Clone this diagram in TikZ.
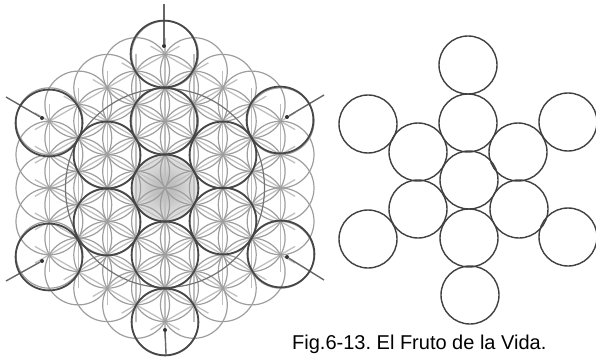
\documentclass[tikz,border=0pt]{standalone}
\usepackage{fontspec}
\setmainfont{Liberation Sans}
\usepackage{tikz}
\usetikzlibrary{calc}
\tikzset{
    grid circle/.style={circle, draw=black!38, line width=1.2pt, minimum size=66.8pt, inner sep=0pt},
    grid line/.style={draw=black!25, line width=1.3pt},
    big circle/.style={circle, draw=black!72, line width=1.8pt, minimum size=66.8pt, inner sep=0pt},
    ring circle/.style={circle, draw=black!55, line width=1.2pt, minimum size=199pt, inner sep=0pt},
    fruit circle/.style={circle, draw=black!75, line width=1.4pt, minimum size=58pt, inner sep=0pt},
    spoke/.style={draw=black!60, line width=1.4pt},
    center dot/.style={circle, fill=black!80, minimum size=4pt, inner sep=0pt},
}
\begin{document}
\begin{tikzpicture}[x=1pt, y=-1pt]
    \useasboundingbox (0,0) rectangle (596,358);

    % Shaded centre
    \node[circle, minimum size=66.8pt, inner sep=0pt, inner color=black!30, outer color=black!10] (shade) at (165,188) {};

    % Straight lines of the grid
    \foreach \r in {0,60,120} {
        \foreach \k in {-4,...,4} {
            \pgfmathsetmacro{\halflen}{33.4*(4.5-abs(\k)/2)}
            \pgfmathsetmacro{\offs}{28.9*\k}
            \coordinate (a) at ($(165,188)+(\r:\offs)+({\r+90}:\halflen)$);
            \coordinate (b) at ($(165,188)+(\r:\offs)+({\r-90}:\halflen)$);
            \draw[grid line] (a) -- (b);
        }
    }

    % Flower grid
    \foreach \i in {-4,...,4} {
        \foreach \j in {-4,...,4} {
            \pgfmathtruncatemacro{\k}{abs(\i+\j)}
            \ifnum\k<5
                \node[grid circle] (g\i\j) at ({165+28.9*\i}, {188+16.7*\i+33.4*\j}) {};
            \fi
        }
    }
    \node[ring circle] (ring) at (165,188) {};

    % Spokes
    \coordinate (s1) at (164,4);
    \coordinate (s2) at (324,95);
    \coordinate (s3) at (324,280);
    \coordinate (s4) at (166,354);
    \coordinate (s5) at (6,281);
    \coordinate (s6) at (6,97);
    \node[center dot] (d1) at (164,46) {};
    \node[center dot] (d2) at (287,117) {};
    \node[center dot] (d3) at (287,257) {};
    \node[center dot] (d4) at (165,330) {};
    \node[center dot] (d5) at (42,261) {};
    \node[center dot] (d6) at (42,118) {};
    \foreach \n in {1,...,6}
        \draw[spoke] (s\n) -- (d\n);

    % Inner and outer circles
    \node[big circle] (c0) at (165,188) {};
    \node[big circle] (c1) at (164,121) {};
    \node[big circle] (c2) at (223,155) {};
    \node[big circle] (c3) at (223,221) {};
    \node[big circle] (c4) at (165,255) {};
    \node[big circle] (c5) at (107,222) {};
    \node[big circle] (c6) at (107,155) {};
    \node[big circle] (o1) at (164,54) {};
    \node[big circle] (o2) at (280,120) {};
    \node[big circle] (o3) at (281,254) {};
    \node[big circle] (o4) at (165,322) {};
    \node[big circle] (o5) at (49,257) {};
    \node[big circle] (o6) at (49,123) {};

    % Fruit
    \node[fruit circle] (f0) at (469,180) {};
    \node[fruit circle] (f1) at (468,123) {};
    \node[fruit circle] (f2) at (518,152) {};
    \node[fruit circle] (f3) at (519,209) {};
    \node[fruit circle] (f4) at (469,238) {};
    \node[fruit circle] (f5) at (418,209) {};
    \node[fruit circle] (f6) at (418,152) {};
    \node[fruit circle] (p1) at (468,65) {};
    \node[fruit circle] (p2) at (568,122) {};
    \node[fruit circle] (p3) at (568,237) {};
    \node[fruit circle] (p4) at (470,295) {};
    \node[fruit circle] (p5) at (368,239) {};
    \node[fruit circle] (p6) at (368,124) {};

    \node[anchor=base west, inner sep=0pt, font=\fontsize{20}{22}\selectfont\frenchspacing] (caption) at (292,349) {Fig.6-13. El Fruto de la Vida.};
\end{tikzpicture}
\end{document}
